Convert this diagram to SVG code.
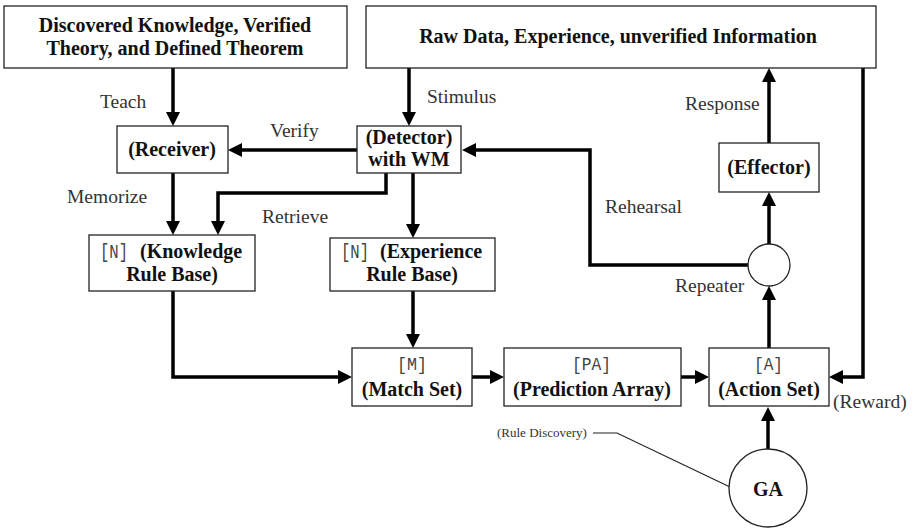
<svg xmlns="http://www.w3.org/2000/svg" width="914" height="528" viewBox="0 0 914 528">
<defs>
<style>
.box{fill:#fff;stroke:#222;stroke-width:1.3}
.t{font-family:"Liberation Serif","Times New Roman",serif;font-weight:bold;font-size:20px;fill:#111;text-anchor:middle}
.lbl{font-family:"Liberation Serif","Times New Roman",serif;font-size:19.5px;fill:#333}
.br{font-family:"Liberation Mono",monospace;font-weight:normal;font-size:21px;fill:#444}
.br2{font-family:"Liberation Mono",monospace;font-weight:normal;font-size:19px;fill:#444}
.c{fill:none;stroke:#000;stroke-width:3.5;marker-end:url(#ah)}
</style>
<marker id="ah" markerUnits="userSpaceOnUse" markerWidth="15" markerHeight="15" refX="6" refY="7" orient="auto">
<path d="M0,0 L14,7 L0,14 z" fill="#000"/>
</marker>
</defs>
<rect width="914" height="528" fill="#fff"/>

<g id="connectors">
<path class="c" d="M173 68 V118"/>
<path class="c" d="M409 68 V118"/>
<path class="c" d="M357 150 H236"/>
<path class="c" d="M173 173 V227"/>
<path class="c" d="M386 173 V193 H218 V227"/>
<path class="c" d="M413 173 V230"/>
<path class="c" d="M413 291 V340"/>
<path class="c" d="M173 291 V377 H344"/>
<path class="c" d="M472 377 H496"/>
<path class="c" d="M681 377 H701"/>
<path class="c" d="M769 348 V294"/>
<path class="c" d="M769 244 V200"/>
<path class="c" d="M769 143 V76"/>
<path class="c" d="M748 265 H590 V150 H470"/>
<path class="c" d="M863 68 V377 H837"/>
<path class="c" d="M768 449 V415"/>
<path d="M593 433 H617 L730 487" fill="none" stroke="#222" stroke-width="1.2"/>
</g>

<g id="knowledge-source">
<rect class="box" x="4" y="6" width="343" height="62"/>
<text class="t" x="175" y="32">Discovered Knowledge, Verified</text>
<text class="t" x="175" y="55">Theory, and Defined Theorem</text>
</g>
<g id="raw-data">
<rect class="box" x="366" y="6" width="510" height="62"/>
<text class="t" x="618" y="43">Raw Data, Experience, unverified Information</text>
</g>
<g id="receiver">
<rect class="box" x="117" y="126" width="111" height="47"/>
<text class="t" x="172" y="156">(Receiver)</text>
</g>
<g id="detector">
<rect class="box" x="357" y="126" width="104" height="47"/>
<text class="t" x="409" y="144">(Detector)</text>
<text class="t" x="409" y="166">with WM</text>
</g>
<g id="effector">
<rect class="box" x="719" y="143" width="100" height="49"/>
<text class="t" x="769" y="174">(Effector)</text>
</g>
<g id="knowledge-rule-base">
<rect class="box" x="89" y="235" width="166" height="56"/>
<text class="t" x="100" y="258" style="text-anchor:start"><tspan class="br" textLength="28" lengthAdjust="spacingAndGlyphs">[N]</tspan><tspan x="140">(Knowledge</tspan></text>
<text class="t" x="172" y="281">Rule Base)</text>
</g>
<g id="experience-rule-base">
<rect class="box" x="330" y="238" width="165" height="53"/>
<text class="t" x="341" y="258" style="text-anchor:start"><tspan class="br" textLength="28" lengthAdjust="spacingAndGlyphs">[N]</tspan><tspan x="380">(Experience</tspan></text>
<text class="t" x="412" y="281">Rule Base)</text>
</g>
<g id="match-set">
<rect class="box" x="352" y="348" width="120" height="58"/>
<text class="br2" x="397" y="370" textLength="30" lengthAdjust="spacingAndGlyphs">[M]</text>
<text class="t" x="412" y="396">(Match Set)</text>
</g>
<g id="prediction-array">
<rect class="box" x="504" y="348" width="177" height="58"/>
<text class="br2" x="572" y="370" textLength="39" lengthAdjust="spacingAndGlyphs">[PA]</text>
<text class="t" x="592" y="396">(Prediction Array)</text>
</g>
<g id="action-set">
<rect class="box" x="709" y="348" width="120" height="58"/>
<text class="br2" x="754" y="370" textLength="29" lengthAdjust="spacingAndGlyphs">[A]</text>
<text class="t" x="769" y="396">(Action Set)</text>
</g>
<g id="repeater">
<circle class="box" cx="769" cy="265" r="21"/>
</g>
<g id="ga">
<circle class="box" cx="768" cy="488" r="39"/>
<text class="t" x="768" y="496">GA</text>
</g>

<g id="labels">
<text class="lbl" x="100" y="108">Teach</text>
<text class="lbl" x="427" y="103">Stimulus</text>
<text class="lbl" x="270" y="137">Verify</text>
<text class="lbl" x="685" y="110">Response</text>
<text class="lbl" x="67" y="203">Memorize</text>
<text class="lbl" x="262" y="223">Retrieve</text>
<text class="lbl" x="605" y="213">Rehearsal</text>
<text class="lbl" x="675" y="292">Repeater</text>
<text class="lbl" x="833" y="408">(Reward)</text>
<text class="lbl" x="497" y="437" style="font-size:13px">(Rule Discovery)</text>
</g>
</svg>
